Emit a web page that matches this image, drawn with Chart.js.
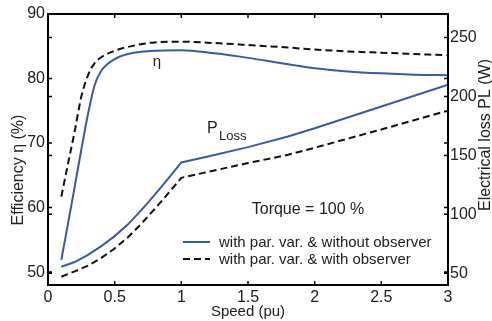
<!DOCTYPE html>
<html>
<head>
<meta charset="utf-8">
<script src="https://cdn.jsdelivr.net/npm/chart.js@4/dist/chart.umd.min.js"></script>
<style>
  html, body { margin: 0; padding: 0; background: #fff; }
  canvas { display: block; }
</style>
</head>
<body>
<canvas id="effChart" width="492" height="321"></canvas>
<script>
// Speed points (pu) and values
const etaSpeed = [0.1, 0.15, 0.2, 0.25, 0.3, 0.35, 0.4, 0.5, 0.6, 0.8, 1.0, 1.25, 1.5, 1.8, 2.0, 2.25, 2.5, 2.75, 3.0];
const etaNoObserver = [51.9, 57.5, 63.2, 69, 74.5, 79, 81.2, 83, 83.8, 84.3, 84.4, 83.9, 83.2, 82.2, 81.6, 81.1, 80.8, 80.6, 80.5];
const etaObserver = [61.7, 66.8, 71.8, 77.2, 80.5, 82.4, 83.3, 84.3, 84.9, 85.6, 85.7, 85.5, 85.2, 84.8, 84.5, 84.2, 84.0, 83.8, 83.6];

const lossSpeed = [0.1, 0.2, 0.3, 0.4, 0.5, 0.6, 0.7, 0.8, 0.9, 1.0, 1.2, 1.5, 1.8, 2.0, 2.5, 3.0];
const lossNoObserver = [55.5, 59.5, 65.5, 73, 81.5, 91.5, 103.5, 116.5, 130, 144, 149, 157, 166, 173, 191.5, 210];
const lossObserver = [47, 51.5, 56.5, 63, 71, 80.5, 92, 104.5, 117.5, 131, 136, 143.5, 150.5, 156.5, 172, 188];

// Tick labels
const speedTicks = [0, 0.5, 1, 1.5, 2, 2.5, 3];
const etaTicks = [50, 60, 70, 80, 90];
const lossTicks = [50, 100, 150, 200, 250];

const legendLabels = ['with par. var. & without observer', 'with par. var. & with observer'];

const BLUE = '#3a5aa8';
const FONT = "'Liberation Sans', Arial, sans-serif";

function pairs(xs, ys) {
    return xs.map((x, i) => ({ x: x, y: ys[i] }));
}

// Frame, inward ticks, legend and annotations
const decorPlugin = {
    id: 'decor',
    afterDatasetsDraw(chart) {
        const ctx = chart.ctx;
        const a = chart.chartArea;
        const sx = chart.scales.x, sy = chart.scales.y, sy1 = chart.scales.y1;
        ctx.save();
        ctx.strokeStyle = '#000';
        ctx.lineWidth = 2;
        ctx.strokeRect(a.left, a.top, a.right - a.left, a.bottom - a.top);

        // inward tick marks
        ctx.lineWidth = 1.5;
        const tl = 4;
        ctx.beginPath();
        speedTicks.forEach(v => {
            const px = sx.getPixelForValue(v);
            ctx.moveTo(px, a.bottom); ctx.lineTo(px, a.bottom - tl);
            ctx.moveTo(px, a.top); ctx.lineTo(px, a.top + tl);
        });
        etaTicks.forEach(v => {
            const py = sy.getPixelForValue(v);
            ctx.moveTo(a.left, py); ctx.lineTo(a.left + tl, py);
            ctx.moveTo(a.right, py); ctx.lineTo(a.right - tl, py);
        });
        lossTicks.forEach(v => {
            const py = sy1.getPixelForValue(v);
            ctx.moveTo(a.left, py); ctx.lineTo(a.left + tl, py);
            ctx.moveTo(a.right, py); ctx.lineTo(a.right - tl, py);
        });
        ctx.stroke();

        ctx.fillStyle = '#222';
        ctx.textBaseline = 'alphabetic';

        // axis titles (both read bottom to top)
        ctx.textAlign = 'center';
        ctx.font = '16px ' + FONT;
        ctx.save();
        ctx.translate(23, 170);
        ctx.rotate(-Math.PI / 2);
        ctx.fillText('Efficiency \u03b7 (%)', 0, 0);
        ctx.restore();
        ctx.save();
        ctx.translate(490, 135);
        ctx.rotate(-Math.PI / 2);
        ctx.fillText('Electrical loss PL (W)', 0, 0);
        ctx.restore();
        ctx.font = '15px ' + FONT;
        ctx.fillText('Speed (pu)', (a.left + a.right) / 2, 316);

        // annotations
        ctx.font = '16px ' + FONT;
        ctx.fillText('Torque = 100 %', 308, 214);
        ctx.font = '15px ' + FONT;
        ctx.fillText('\u03b7', 157, 66);
        ctx.textAlign = 'left';
        ctx.font = '16px ' + FONT;
        ctx.fillText('P', 207, 133);
        ctx.font = '13px ' + FONT;
        ctx.fillText('Loss', 219, 140);

        // legend
        ctx.font = '15px ' + FONT;
        const rows = [242, 259];
        chart.data.datasets.slice(0, 2).forEach((ds, i) => {
            ctx.beginPath();
            ctx.strokeStyle = ds.borderColor;
            ctx.lineWidth = 2;
            ctx.setLineDash(ds.borderDash || []);
            ctx.moveTo(183, rows[i]);
            ctx.lineTo(210, rows[i]);
            ctx.stroke();
            ctx.setLineDash([]);
            ctx.fillText(legendLabels[i], 219, rows[i] + 5);
        });
        ctx.restore();
    }
};

const tickFont = { family: FONT, size: 16 };
const plainLabel = v => String(v);

const ctx = document.getElementById('effChart').getContext('2d');
const chart = new Chart(ctx, {
    type: 'line',
    data: {
        datasets: [
            {
                label: legendLabels[0] + ' (eta)',
                data: pairs(etaSpeed, etaNoObserver),
                yAxisID: 'y',
                borderColor: BLUE,
                borderWidth: 2,
                pointRadius: 0,
                cubicInterpolationMode: 'monotone'
            },
            {
                label: legendLabels[1] + ' (eta)',
                data: pairs(etaSpeed, etaObserver),
                yAxisID: 'y',
                borderColor: '#111',
                borderWidth: 2,
                borderDash: [7, 4],
                pointRadius: 0,
                cubicInterpolationMode: 'monotone'
            },
            {
                label: legendLabels[0] + ' (loss)',
                data: pairs(lossSpeed, lossNoObserver),
                yAxisID: 'y1',
                borderColor: BLUE,
                borderWidth: 2,
                pointRadius: 0,
                tension: 0
            },
            {
                label: legendLabels[1] + ' (loss)',
                data: pairs(lossSpeed, lossObserver),
                yAxisID: 'y1',
                borderColor: '#111',
                borderWidth: 2,
                borderDash: [7, 4],
                pointRadius: 0,
                tension: 0
            }
        ]
    },
    options: {
        responsive: false,
        animation: false,
        layout: { padding: { top: 14, left: 0, right: 0, bottom: 0 } },
        plugins: {
            legend: { display: false },
            tooltip: { enabled: false }
        },
        scales: {
            x: {
                type: 'linear',
                min: 0,
                max: 3,
                afterBuildTicks: s => { s.ticks = speedTicks.map(v => ({ value: v })); },
                afterFit: s => { s.height = 36; },
                grid: { display: false, drawTicks: false },
                border: { display: false },
                ticks: { color: '#222', padding: 3, font: tickFont, callback: plainLabel }
            },
            y: {
                position: 'left',
                min: 48,
                max: 90,
                afterBuildTicks: s => { s.ticks = etaTicks.map(v => ({ value: v })); },
                afterFit: s => { s.width = 48; },
                grid: { display: false, drawTicks: false },
                border: { display: false },
                ticks: { color: '#222', padding: 3, font: tickFont, callback: plainLabel }
            },
            y1: {
                position: 'right',
                min: 40,
                max: 270,
                afterBuildTicks: s => { s.ticks = lossTicks.map(v => ({ value: v })); },
                afterFit: s => { s.width = 44; },
                grid: { display: false, drawTicks: false },
                border: { display: false },
                ticks: { color: '#222', padding: 2, font: tickFont, callback: plainLabel }
            }
        }
    },
    plugins: [decorPlugin]
});
</script>
</body>
</html>
